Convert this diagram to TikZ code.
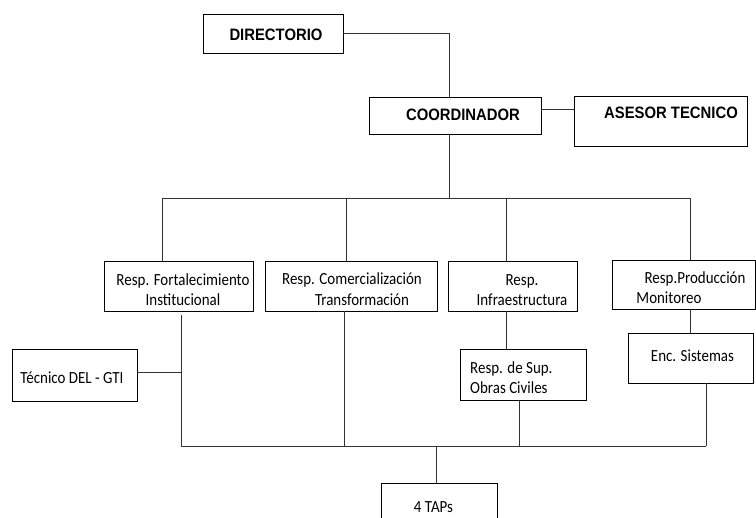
\documentclass[tikz,border=0pt]{standalone}
\usepackage{fontspec}
\setmainfont{Carlito}[FakeStretch=0.88]
\newfontfamily\headfont{Liberation Sans}[FakeStretch=0.9]
\begin{document}
\begin{tikzpicture}[x=1pt,y=-1pt,
  box/.style={draw=black,line width=0.8pt,inner sep=0pt,fill=white},
  conn/.style={draw=black!80,line width=0.8pt},
  head/.style={font=\headfont\bfseries\fontsize{16.5}{19}\selectfont,inner sep=0pt},
  lbl/.style={font=\fontsize{17}{20}\selectfont,inner sep=0pt,align=center}]
\clip (0,0) rectangle (756,518);
\fill[white] (0,0) rectangle (756,518);
% boxes
\node[box,minimum width=140pt,minimum height=39pt] (dir) at (273,33.5) {};
\node[box,minimum width=172pt,minimum height=37pt] (coord) at (455,115.5) {};
\node[box,minimum width=173pt,minimum height=50pt] (ases) at (660.5,121) {};
\node[box,minimum width=149pt,minimum height=50pt] (fort) at (178.5,286) {};
\node[box,minimum width=172pt,minimum height=50pt] (com) at (351,286) {};
\node[box,minimum width=129pt,minimum height=50pt] (infra) at (512.5,286) {};
\node[box,minimum width=143pt,minimum height=49pt] (prod) at (683.5,284.5) {};
\node[box,minimum width=125pt,minimum height=52pt] (tec) at (74.5,375) {};
\node[box,minimum width=126pt,minimum height=51pt] (sup) at (523,374.5) {};
\node[box,minimum width=125pt,minimum height=50pt] (enc) at (690.5,358) {};
\node[box,minimum width=116pt,minimum height=60pt] (taps) at (439,513) {};
% texts
\node[head] (dirT) at (276,35) {DIRECTORIO};
\node[head] (coordT) at (463,115) {COORDINADOR};
\node[head] (asesT) at (671,113) {ASESOR TECNICO};
\node[lbl] (fortT) at (183,290) {Resp. Fortalecimiento\\Institucional};
\node[lbl] (comT1) at (352,280) {Resp. Comercialización};
\node[lbl] (comT2) at (362,300) {Transformación};
\node[lbl] (infraT) at (522,290) {Resp.\\Infraestructura};
\node[lbl] (prodT1) at (695,279) {Resp.Producción};
\node[lbl] (prodT2) at (669,298) {Monitoreo};
\node[lbl] (tecT) at (72,378) {Técnico DEL - GTI};
\node[lbl,anchor=west,align=left] (supT) at (470,377.5) {Resp. de Sup.\\Obras Civiles};
\node[lbl] (encT) at (692.5,356) {Enc. Sistemas};
\node[lbl] (tapsT) at (433.5,507) {4 TAPs};
% junction coordinates
\coordinate (tb1) at (162,198);
\coordinate (tb2) at (346,198);
\coordinate (tb3) at (506,198);
\coordinate (tb4) at (690,198);
\coordinate (bb1) at (181,446);
\coordinate (bb2) at (706,446);
% connectors
\draw[conn] (dir.east) -| ([xshift=-6pt]coord.north);
\draw[conn] ([yshift=6.5pt]coord.east) -- ([yshift=6.5pt]coord.east -| ases.west);
\draw[conn] ([xshift=-6pt]coord.south) -- ([xshift=-6pt]coord.south |- tb1);
\draw[conn] (tb1 |- fort.north) -- (tb1) -- (tb4) -- (tb4 |- prod.north);
\draw[conn] (tb2) -- (tb2 |- com.north);
\draw[conn] (tb3) -- (tb3 |- infra.north);
\draw[conn] ([xshift=2.5pt,yshift=-4pt]fort.south) -- (bb1);
\draw[conn] ([yshift=3pt]tec.east) -- ([yshift=3pt]tec.east -| bb1);
\draw[conn] ([xshift=-7pt]com.south) -- ([xshift=-7pt]com.south |- bb1);
\draw[conn] ([xshift=-6.5pt]infra.south) -- ([xshift=-6.5pt]infra.south |- sup.north);
\draw[conn] ([xshift=-4pt]sup.south) -- ([xshift=-4pt]sup.south |- bb1);
\draw[conn] ([xshift=6.5pt]prod.south) -- ([xshift=6.5pt]prod.south |- enc.north);
\draw[conn] ([xshift=15.5pt]enc.south) -- (bb2);
\draw[conn] (bb1) -- (bb2);
\draw[conn] ([xshift=-3pt]taps.north |- bb1) -- ([xshift=-3pt]taps.north);
\end{tikzpicture}
\end{document}
